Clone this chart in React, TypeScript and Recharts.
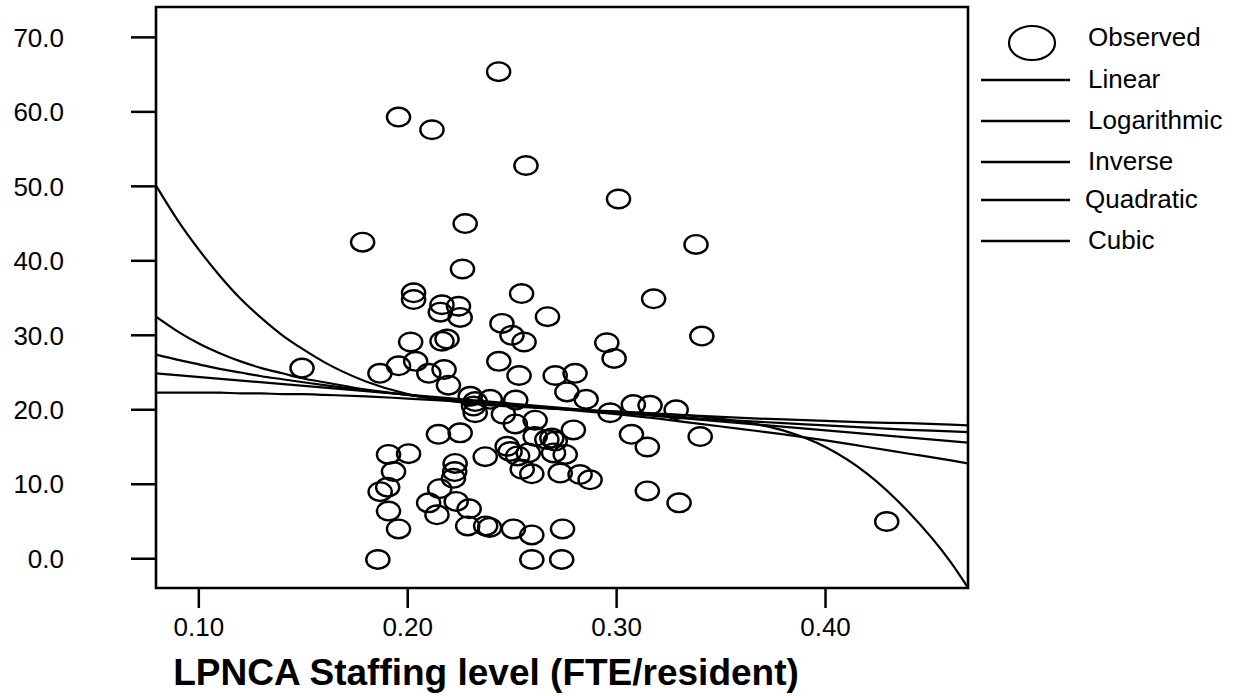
import React from 'react';
import { ComposedChart, XAxis, YAxis, Line, Scatter, ReferenceArea } from 'recharts';

// Axis settings
const X_MIN = 0.0795;
const X_MAX = 0.4682;
const Y_MIN = -3.93;
const Y_MAX = 74.08;
const xTicks = [0.1, 0.2, 0.3, 0.4];
const yTicks = [0, 10, 20, 30, 40, 50, 60, 70];

// Observed points
const observedX = [
  0.2435, 0.1956, 0.2116, 0.2566, 0.3009, 0.338, 0.1784, 0.2275, 0.2262, 0.2545,
  0.3177, 0.2028, 0.2028, 0.2164, 0.2243, 0.2156, 0.2251, 0.2451, 0.2499, 0.2557,
  0.2669, 0.3408, 0.2953, 0.2988, 0.2014, 0.2164, 0.2188, 0.2436, 0.2533, 0.1956,
  0.2038, 0.1867, 0.2101, 0.2174, 0.2195, 0.1494, 0.2706, 0.2801, 0.2762, 0.2854,
  0.2517, 0.2969, 0.308, 0.316, 0.3285, 0.34, 0.3071, 0.3147, 0.2793, 0.261,
  0.2458, 0.2515, 0.269, 0.2706, 0.261, 0.2666, 0.2476, 0.249, 0.2526, 0.2577,
  0.2698, 0.2754, 0.2548, 0.2594, 0.273, 0.2825, 0.2873, 0.3147, 0.3299, 0.2506,
  0.2594, 0.2741, 0.2594, 0.2737, 0.4293, 0.2147, 0.2251, 0.1908, 0.2004, 0.1932,
  0.1904, 0.1868, 0.1908, 0.1956, 0.1857, 0.2371, 0.2227, 0.2225, 0.2219, 0.2153,
  0.21, 0.214, 0.2232, 0.2294, 0.2287, 0.2373, 0.2392, 0.2299, 0.2323, 0.2315,
  0.2395, 0.2323,
];
const observedY = [
  65.4, 59.3, 57.6, 52.8, 48.3, 42.2, 42.5, 45.0, 38.9, 35.6,
  34.9, 35.7, 34.8, 34.1, 33.9, 33.1, 32.4, 31.6, 30.0, 29.1,
  32.5, 29.9, 29.0, 26.9, 29.1, 29.2, 29.5, 26.5, 24.6, 25.9,
  26.5, 24.9, 24.9, 25.4, 23.3, 25.6, 24.6, 24.9, 22.4, 21.4,
  21.3, 19.6, 20.7, 20.6, 20.0, 16.4, 16.7, 15.0, 17.3, 18.6,
  19.4, 18.1, 16.2, 15.8, 16.4, 16.0, 15.1, 14.4, 13.8, 14.2,
  14.2, 14.0, 12.0, 11.4, 11.5, 11.3, 10.6, 9.1, 7.5, 4.0,
  3.2, 4.0, -0.1, -0.1, 5.0, 16.7, 16.9, 14.0, 14.1, 11.7,
  9.6, 9.0, 6.4, 4.0, -0.1, 13.7, 12.8, 11.7, 10.8, 9.4,
  7.5, 5.9, 7.7, 6.7, 4.4, 4.4, 4.2, 21.8, 21.1, 20.5,
  21.4, 19.6,
];

// Fitted curves
const curveX = [
  0.0795, 0.09, 0.1, 0.11, 0.12, 0.13, 0.14, 0.15, 0.16, 0.18, 0.2, 0.22, 0.24,
  0.26, 0.28, 0.3, 0.32, 0.34, 0.36, 0.38, 0.4, 0.42, 0.44, 0.46, 0.4682,
];
const cubicY = [
  50.1, 45.4, 41.5, 38.0, 34.9, 32.3, 30.0, 28.1, 26.4, 23.8, 22.1, 21.2, 20.6,
  20.3, 20.0, 19.8, 19.5, 19.1, 18.4, 17.2, 15.0, 11.4, 6.2, -0.5, -3.9,
];
const inverseY = [
  32.5, 30.5, 28.9, 27.6, 26.5, 25.6, 24.9, 24.2, 23.7, 22.7, 22.0, 21.3, 20.8,
  20.4, 20.0, 19.7, 19.4, 19.2, 18.9, 18.7, 18.5, 18.3, 18.2, 18.0, 17.9,
];
const logY = [
  27.4, 26.7, 26.1, 25.5, 25.0, 24.5, 24.1, 23.7, 23.3, 22.6, 22.0, 21.4, 20.9,
  20.4, 20.0, 19.6, 19.2, 18.8, 18.5, 18.2, 17.9, 17.6, 17.3, 17.1, 17.0,
];
const quadY = [
  22.3, 22.3, 22.3, 22.3, 22.2, 22.2, 22.1, 22.1, 22.0, 21.8, 21.5, 21.2, 20.8,
  20.4, 19.9, 19.4, 18.8, 18.1, 17.4, 16.7, 15.9, 15.0, 14.1, 13.2, 12.8,
];
const linearX = [0.0795, 0.4682];
const linearY = [24.9, 15.6];

const legendItems = ['Linear', 'Logarithmic', 'Inverse', 'Quadratic', 'Cubic'];

const toPts = (xs: number[], ys: number[]) => xs.map((x, i) => ({ x, y: ys[i] }));

const observed = toPts(observedX, observedY);
const cubic = toPts(curveX, cubicY);
const inverse = toPts(curveX, inverseY);
const logarithmic = toPts(curveX, logY);
const quadratic = toPts(curveX, quadY);
const linear = toPts(linearX, linearY);

const FONT = '"Liberation Sans", Arial, sans-serif';

const EllipseShape = (props: any) => {
  const { cx, cy } = props;
  if (cx == null || cy == null || isNaN(cx) || isNaN(cy)) return null;
  return <ellipse cx={cx} cy={cy} rx={11.6} ry={9.3} fill="none" stroke="#000" strokeWidth={2.4} />;
};

const tickStyle = { fill: '#000', fontSize: 26, fontFamily: FONT };

export default function App() {
  const legendLineY = [80, 121, 162, 200, 241];
  return (
    <div style={{ position: 'absolute', left: 0, top: 0, width: 1239, height: 696, background: '#fff' }}>
      <ComposedChart width={1239} height={696} margin={{ top: 7, right: 271, bottom: 0, left: 0 }}>
        <XAxis
          type="number"
          dataKey="x"
          domain={[X_MIN, X_MAX]}
          ticks={xTicks}
          tickFormatter={(v: number) => v.toFixed(2)}
          allowDataOverflow
          height={108}
          tickSize={20}
          tickMargin={10}
          axisLine={false}
          tickLine={{ stroke: '#000', strokeWidth: 2.5 }}
          tick={tickStyle}
        />
        <YAxis
          type="number"
          dataKey="y"
          domain={[Y_MIN, Y_MAX]}
          ticks={yTicks}
          tickFormatter={(v: number) => v.toFixed(1)}
          allowDataOverflow
          width={156}
          tickSize={25}
          tickMargin={67}
          axisLine={false}
          tickLine={{ stroke: '#000', strokeWidth: 2.5 }}
          tick={tickStyle}
        />
        <ReferenceArea
          x1={X_MIN}
          x2={X_MAX}
          y1={Y_MIN}
          y2={Y_MAX}
          fill="none"
          fillOpacity={0}
          stroke="#000"
          strokeWidth={2.6}
          strokeOpacity={1}
          ifOverflow="visible"
        />
        <Line data={linear} dataKey="y" type="linear" stroke="#000" strokeWidth={2.2} dot={false} isAnimationActive={false} />
        <Line data={logarithmic} dataKey="y" type="monotone" stroke="#000" strokeWidth={2.2} dot={false} isAnimationActive={false} />
        <Line data={inverse} dataKey="y" type="monotone" stroke="#000" strokeWidth={2.2} dot={false} isAnimationActive={false} />
        <Line data={quadratic} dataKey="y" type="monotone" stroke="#000" strokeWidth={2.2} dot={false} isAnimationActive={false} />
        <Line data={cubic} dataKey="y" type="monotone" stroke="#000" strokeWidth={2.2} dot={false} isAnimationActive={false} />
        <Scatter data={observed} dataKey="y" shape={EllipseShape} isAnimationActive={false} />
      </ComposedChart>
      <svg width={1239} height={696} style={{ position: 'absolute', left: 0, top: 0, pointerEvents: 'none' }}>
        <ellipse cx={1032} cy={43} rx={23} ry={17} fill="none" stroke="#000" strokeWidth={2.2} />
        <text x={1088} y={46} fontSize={26} fontFamily={FONT} fill="#000">Observed</text>
        {legendItems.map((name, i) => (
          <g key={name}>
            <line x1={981} x2={1070} y1={legendLineY[i]} y2={legendLineY[i]} stroke="#000" strokeWidth={2.5} />
            <text x={name === 'Quadratic' ? 1085 : 1088} y={legendLineY[i] + 8} fontSize={26} fontFamily={FONT} fill="#000">
              {name}
            </text>
          </g>
        ))}
        <text x={486} y={685} textAnchor="middle" fontSize={37} fontWeight="bold" fontFamily={FONT} fill="#000">
          LPNCA Staffing level (FTE/resident)
        </text>
      </svg>
    </div>
  );
}
